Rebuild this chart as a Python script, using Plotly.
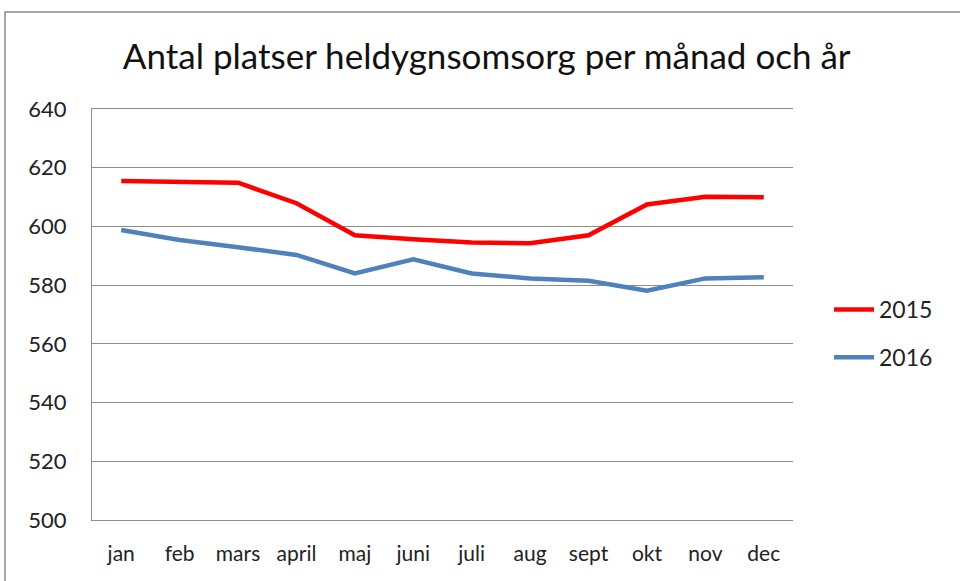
import plotly.graph_objects as go

months = ["jan", "feb", "mars", "april", "maj", "juni", "juli", "aug", "sept", "okt", "nov", "dec"]
platser_2015 = [615.5, 615.3, 614.9, 607.9, 597.0, 595.6, 594.5, 594.3, 597.0, 607.5, 610.1, 609.9]
platser_2016 = [598.8, 595.4, 592.9, 590.3, 584.0, 588.8, 584.0, 582.3, 581.5, 578.1, 582.3, 582.7]
y_ticks = [500, 520, 540, 560, 580, 600, 620, 640]

FONT = "Lato, 'Open Sans', sans-serif"
W, H = 960, 581
ML, MR, MT, MB = 92, 167, 109, 61
PW, PH = W - ML - MR, H - MT - MB
GRID = "#8c8c8c"

fig = go.Figure()
fig.add_trace(go.Scatter(x=months, y=platser_2015, mode="lines", name="2015",
                         line=dict(color="#ff0000", width=4.5), legendgroup="a"))
fig.add_trace(go.Scatter(x=months, y=platser_2016, mode="lines", name="2016",
                         line=dict(color="#4f81bd", width=4.5), legendgroup="b"))

# chart frame around the whole figure
fig.add_shape(type="rect", xref="paper", yref="paper",
              x0=(5 - ML) / PW, x1=(W + 20 - ML) / PW,
              y0=-(H + 20 - MT - PH) / PH, y1=1 + (MT - 12) / PH,
              line=dict(color="#8c8c8c", width=1.5), layer="below")

fig.update_layout(
    width=W, height=H,
    margin=dict(l=ML, r=MR, t=MT, b=MB),
    paper_bgcolor="white", plot_bgcolor="white",
    font=dict(family=FONT, size=22, color="#222222"),
    title=dict(text="Antal platser heldygnsomsorg per månad och år",
               font=dict(family=FONT, size=35, color="#111111"),
               x=0.507, xanchor="center", y=1 - 57 / H, yanchor="middle"),
    xaxis=dict(type="category", range=[-0.5, 11.5], showgrid=False,
               showline=True, mirror=True, linecolor=GRID, linewidth=1,
               ticks="", tickfont=dict(size=21), ticklabelstandoff=15),
    yaxis=dict(range=[500, 640], tickvals=y_ticks, showgrid=True,
               gridcolor=GRID, gridwidth=1, zeroline=False,
               showline=True, linecolor=GRID, linewidth=1,
               ticks="", tickfont=dict(size=22), ticklabelstandoff=20),
    legend=dict(x=1 + (829 - ML - PW) / PW, xanchor="left",
                y=1 - (288 - MT) / PH, yanchor="top",
                font=dict(size=23), tracegroupgap=15,
                itemwidth=40, bgcolor="rgba(0,0,0,0)"),
)

fig.write_html("out.html")
